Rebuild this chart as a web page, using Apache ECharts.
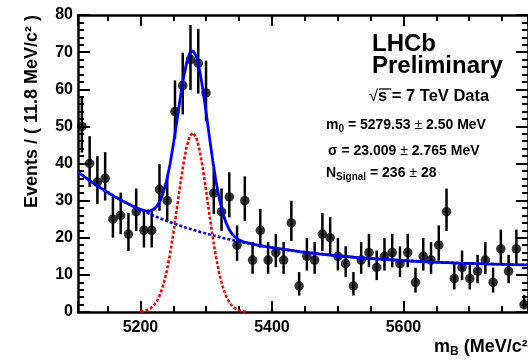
<!DOCTYPE html>
<html><head><meta charset="utf-8">
<script src="https://cdn.jsdelivr.net/npm/echarts@6/dist/echarts.min.js"></script>
<style>html,body{margin:0;padding:0;background:#fff}#c{width:528px;height:361px}</style>
</head><body><div id="c"></div>
<script>
// ---- data ----
const binStart = 5105, binWidth = 11.8;
const counts = [50,40,35,36,25,26,21,27,22,22,33,30,54,61,68,67,59,32,27,31,18,30,14,22,14,16,14,24,7,15,14,21,20,15,13,7,14,16,12,15,16,13,16,8,15,14,18,27,9,12,9,11,14,8,17,11,17,2];
const totalMass = [5105,5115,5125,5135,5145,5155,5165,5175,5185,5195,5200,5205,5210,5215,5220,5225,5230,5235,5240,5245,5250,5255,5260,5265,5270,5275,5280,5285,5290,5295,5300,5305,5310,5315,5320,5325,5330,5335,5340,5345,5350,5355,5360,5380,5405,5445,5485,5525,5565,5605,5645,5685,5725,5765,5790];
const totalVal = [37.70,36.37,35.10,33.91,32.77,31.70,30.68,29.71,28.80,27.98,27.62,27.35,27.20,27.26,27.64,28.48,29.99,32.30,35.58,39.88,45.09,50.97,56.99,62.57,67.03,69.78,70.42,68.81,65.13,59.85,53.58,47.00,40.69,35.09,30.44,26.80,24.11,22.19,20.88,20.01,19.42,19.02,18.73,17.95,17.21,16.21,15.41,14.75,14.23,13.80,13.45,13.18,12.95,12.77,12.67];
const bgMass = [5105,5125,5145,5165,5185,5205,5225,5245,5265,5285,5305,5325,5345,5365,5385,5405,5445,5485,5525,5565,5605,5645,5685,5725,5765,5790];
const bgVal = [37.70,35.10,32.77,30.68,28.79,27.10,25.57,24.20,22.97,21.87,20.87,19.97,19.17,18.45,17.80,17.21,16.21,15.41,14.75,14.23,13.80,13.45,13.18,12.95,12.77,12.67];
const sigMass = [5200,5205,5210,5215,5220,5225,5230,5235,5240,5245,5250,5255,5260,5265,5270,5275,5280,5285,5290,5295,5300,5305,5310,5315,5320,5325,5330,5335,5340,5345,5350,5355,5360];
const sigVal = [0.12,0.25,0.50,0.95,1.70,2.91,4.77,7.43,11.05,15.68,21.21,27.40,33.72,39.60,44.35,47.38,48.29,46.94,43.52,38.49,32.47,26.13,20.05,14.68,10.25,6.83,4.34,2.63,1.52,0.84,0.44,0.22,0.11];
const xMin = 5105, xMax = 5789.4, yMin = 0, yMax = 80;

// ---- build ----
const FONT = '"Liberation Sans", Arial, Helvetica, sans-serif';
const centers = counts.map((c, i) => binStart + binWidth * (i + 0.5));
const points = counts.map((c, i) => [centers[i], c]);
function poisLo(n){ if(n<=0) return 0; const t=1-1/(9*n)-1/(3*Math.sqrt(n)); return n - n*t*t*t; }
function poisHi(n){ const m=n+1; const t=1-1/(9*m)+1/(3*Math.sqrt(m)); return m*t*t*t - n; }
const errs = counts.map((c, i) => [centers[i], c - poisLo(c), c + poisHi(c)]);
const zip = (a, b) => a.map((v, i) => [v, b[i]]);

const axisCommon = {
  axisLine:{show:true,onZero:false,lineStyle:{color:'#000',width:2.5}},
  splitLine:{show:false}, minorSplitLine:{show:false}
};
const xAx = (pos, lab) => Object.assign({
  type:'value', min:xMin, max:xMax, splitNumber:3, minInterval:200, maxInterval:200, position:pos,
  axisTick:{show:true,inside:true,length:11,lineStyle:{color:'#000',width:2}},
  minorTick:{show:true,splitNumber:4,length:6,lineStyle:{color:'#000',width:2}},
  axisLabel:{show:lab,color:'#000',fontFamily:FONT,fontWeight:'bold',fontSize:16,margin:8,
    showMinLabel:false,showMaxLabel:false,formatter:v=>(Math.abs(v%200)<1e-6?String(v):'')}
}, axisCommon);
const yAx = (pos, lab) => Object.assign({
  type:'value', min:yMin, max:yMax, interval:10, position:pos,
  axisTick:{show:true,inside:true,length:12,lineStyle:{color:'#000',width:2}},
  minorTick:{show:true,splitNumber:5,length:6,lineStyle:{color:'#000',width:2}},
  axisLabel:{show:lab,color:'#000',fontFamily:FONT,fontWeight:'bold',fontSize:16,margin:5}
}, axisCommon);

const T = (x, y, text, size, extra) => ({type:'text', x:x, y:y, z:100,
  style:Object.assign({text:text, fill:'#000', font:'bold '+size+'px '+FONT, align:'left', verticalAlign:'middle'}, extra||{})});
const rich = {
  m:{fontFamily:FONT,fontWeight:'bold',fontSize:14,lineHeight:18,fill:'#000'},
  s:{fontFamily:FONT,fontWeight:'bold',fontSize:10,lineHeight:10,verticalAlign:'bottom',fill:'#000'},
  pm:{fontFamily:FONT,fontWeight:'normal',fontSize:14,lineHeight:18,fill:'#000'},
  big:{fontFamily:FONT,fontWeight:'bold',fontSize:18,lineHeight:22,fill:'#000'},
  bs:{fontFamily:FONT,fontWeight:'bold',fontSize:12,lineHeight:12,verticalAlign:'bottom',fill:'#000'},
  sq:{fontFamily:FONT,fontWeight:'normal',fontSize:16.5,lineHeight:18,fill:'#000'},
  sb:{fontFamily:FONT,fontWeight:'bold',fontSize:16.5,lineHeight:18,fill:'#000'}
};

const option = {
  animation:false,
  backgroundColor:'#fff',
  grid:{left:78, top:15, width:455, height:297, containLabel:false},
  xAxis:[xAx('bottom', true), xAx('top', false)],
  yAxis:[yAx('left', true), yAx('right', false)],
  series:[
    {type:'custom', name:'err', z:2, clip:true,
      renderItem:(params, api) => {
        const p1 = api.coord([api.value(0), api.value(1)]);
        const p2 = api.coord([api.value(0), api.value(2)]);
        return {type:'line', shape:{x1:p1[0],y1:p1[1],x2:p2[0],y2:p2[1]}, style:{stroke:'#000',lineWidth:2.5}};
      },
      encode:{x:0,y:[1,2]}, data:errs},
    {type:'scatter', name:'data', z:3, symbol:'circle', symbolSize:9.5, itemStyle:{color:'#000'}, data:points},
    {type:'line', name:'bg', z:4, showSymbol:false, data:zip(bgMass,bgVal),
      lineStyle:{color:'#0000ff',width:2.6,type:[3,2]}},
    {type:'line', name:'total', z:5, showSymbol:false, data:zip(totalMass,totalVal),
      lineStyle:{color:'#0000ff',width:2.8}},
    {type:'line', name:'sig', z:6, showSymbol:false, data:zip(sigMass,sigVal),
      lineStyle:{color:'#ff0000',width:2.6,type:[3,2]}}
  ],
  graphic:[
    T(372, 44, 'LHCb', 24),
    T(372, 66, 'Preliminary', 24),
    {type:'text', x:369, y:96.7, z:100, style:{text:'{sq|√}{sb|s = 7 TeV Data}', rich:rich, verticalAlign:'middle', align:'left'}},
    {type:'line', z:100, shape:{x1:379, y1:89, x2:391, y2:89}, style:{stroke:'#000', lineWidth:1.3}},
    {type:'text', x:326, y:125.5, z:100, style:{text:'{m|m}{s|0}{m| = 5279.53 }{pm|±}{m| 2.50 MeV}', rich:rich, verticalAlign:'middle', align:'left'}},
    {type:'text', x:328, y:151.5, z:100, style:{text:'{m|σ = 23.009 }{pm|±}{m| 2.765 MeV}', rich:rich, verticalAlign:'middle', align:'left'}},
    {type:'text', x:326, y:173, z:100, style:{text:'{m|N}{s|Signal}{m| = 236 }{pm|±}{m| 28}', rich:rich, verticalAlign:'middle', align:'left'}},
    {type:'text', x:32, y:111.5, z:100, rotation:Math.PI/2,
      style:{text:'Events / ( 11.8 MeV/c² )', fill:'#000', font:'bold 18px '+FONT, align:'center', verticalAlign:'middle'}},
    {type:'text', x:434, y:347, z:100, style:{text:'{big|m}{bs|B}{big| (MeV/c²)}', rich:rich, verticalAlign:'middle', align:'left'}}
  ]
};
const chart = echarts.init(document.getElementById('c'), null, {renderer:'canvas'});
chart.setOption(option);
</script></body></html>
